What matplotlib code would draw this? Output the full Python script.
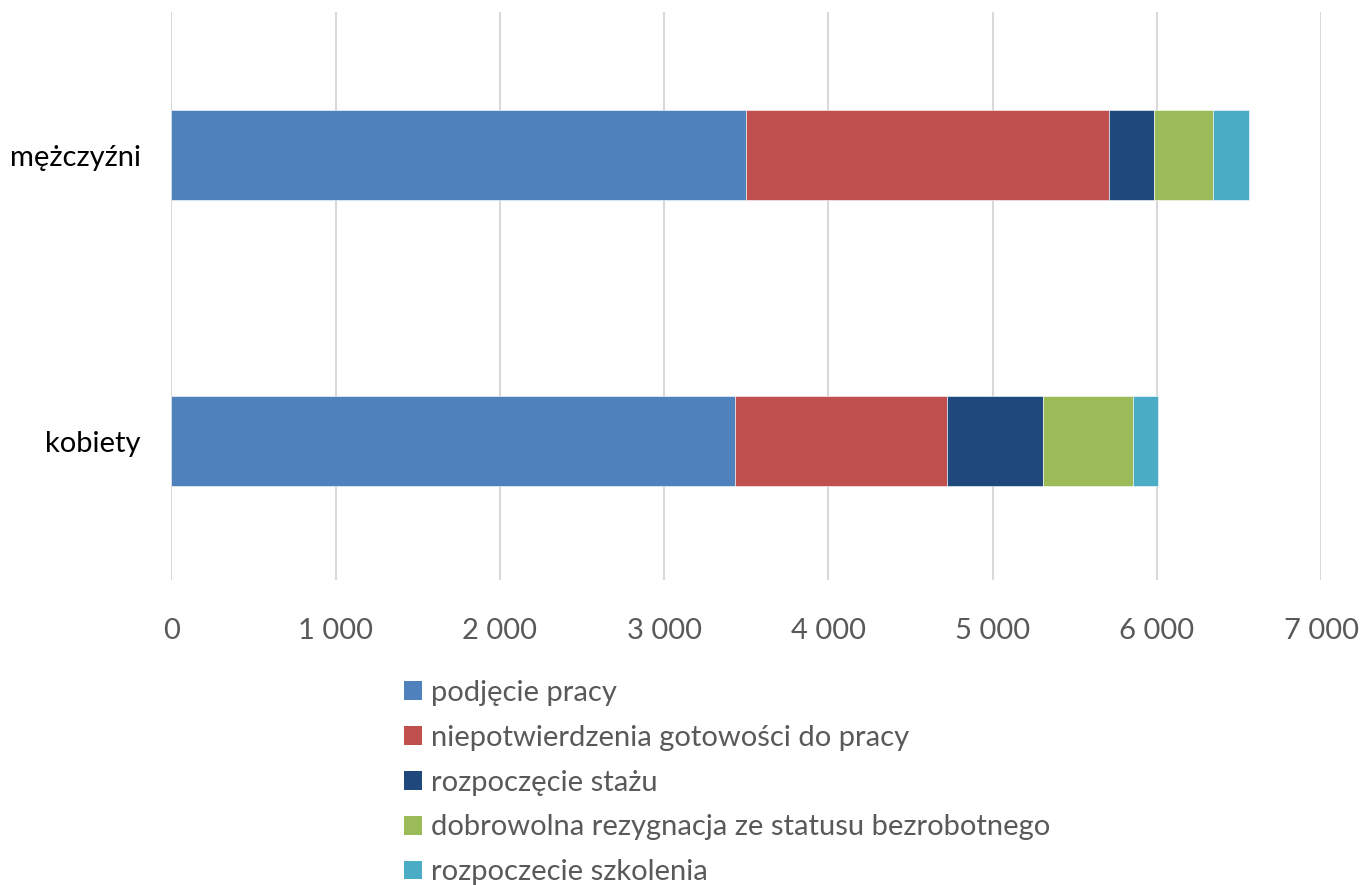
import matplotlib
matplotlib.use("Agg")
import matplotlib.pyplot as plt
from matplotlib.patches import Patch
from matplotlib.ticker import FuncFormatter

categories = ["kobiety", "mężczyźni"]
series_names = ["podjęcie pracy", "niepotwierdzenia gotowości do pracy", "rozpoczęcie stażu",
                "dobrowolna rezygnacja ze statusu bezrobotnego", "rozpoczecie szkolenia"]
podjecie = [3434, 3497]
niepotw = [1291, 2214]
staz = [583, 274]
rezygnacja = [548, 356]
szkolenie = [150, 223]
series = [podjecie, niepotw, staz, rezygnacja, szkolenie]
colors = ["#4F81BD", "#C0504D", "#1F497D", "#9BBB59", "#4BACC6"]
xticks = [0, 1000, 2000, 3000, 4000, 5000, 6000, 7000]

plt.rcParams['font.family'] = ['Lato', 'DejaVu Sans']
fig = plt.figure(figsize=(13.64, 8.85), dpi=100)
ax = fig.add_axes([0.1257, 0.3446, 0.9685 - 0.1257, 0.9864 - 0.3446])

left = [0, 0]
for vals, col, name in zip(series, colors, series_names):
    ax.barh(range(len(categories)), vals, left=left, height=0.315, color=col,
            edgecolor='white', linewidth=0.4, label=name, zorder=3)
    left = [l + v for l, v in zip(left, vals)]

ax.set_xlim(0, 7000)
ax.set_ylim(-0.486, 1.5)
ax.set_xticks(xticks)
ax.xaxis.set_major_formatter(FuncFormatter(lambda v, p: f"{int(v):,}".replace(",", " ")))
ax.set_yticks(range(len(categories)))
ax.set_yticklabels(categories)
ax.grid(axis='x', color='#D9D9D9', linewidth=1.5, zorder=0)
for s in ax.spines.values():
    s.set_visible(False)
ax.tick_params(axis='both', length=0, labelsize=21, labelcolor='#595959')
ax.tick_params(axis='x', pad=27)
ax.tick_params(axis='y', pad=22)
for lab in ax.get_yticklabels():
    lab.set_color('black')

handles = [Patch(facecolor=c, edgecolor='none') for c in colors]
fig.legend(handles, series_names, loc='upper left', bbox_to_anchor=(0.2962, 0.2316),
           frameon=False, fontsize=21, labelcolor='#595959', handlelength=0.62,
           handleheight=0.62, handletextpad=0.3, labelspacing=0.645, borderpad=0,
           borderaxespad=0)

fig.savefig("out.png", dpi=100)
